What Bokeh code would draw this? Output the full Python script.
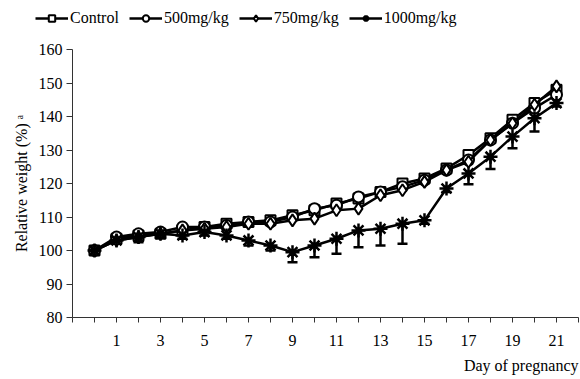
from bokeh.plotting import figure
from bokeh.layouts import column
from bokeh.models import (ColumnDataSource, FixedTicker, Legend, LegendItem, Title,
                          Whisker, TeeHead, Range1d)
from bokeh.embed import file_html
from bokeh.resources import INLINE

days = list(range(0, 22))
control = [100, 103.5, 104.5, 105, 106, 107, 108, 108.5, 109, 110.5, 112, 114,
           115.5, 117.5, 120, 121.5, 124.5, 128.5, 133.5, 139, 144, 148]
mg500 = [100, 104, 105, 105.5, 107, 107, 107.5, 108.5, 108.5, 110, 112.5, 113.5,
         116, 117.5, 119, 121, 124, 127, 133, 138, 142.5, 146.5]
mg750 = [100, 103, 104, 105, 106, 106.5, 107, 108, 108, 109, 109.5, 112,
         112.5, 116.5, 118, 120.5, 124, 126.5, 133, 138, 143.5, 149]
mg1000 = [100, 103, 104, 105, 104.5, 105.5, 104.5, 103, 101.5, 99.5, 101.5, 103.5,
          106, 106.5, 108, 109, 118.5, 123, 128, 134, 139.5, 144]
mg1000_err = [0, 1, 1.5, 1, 1, 1, 1, 1.5, 1.5, 3, 3.5, 4.5,
              5, 5, 6, 1, 1, 3.2, 3.7, 3.5, 4, 1]
series_names = ["Control", "500mg/kg", "750mg/kg", "1000mg/kg"]

tick_days = [1, 3, 5, 7, 9, 11, 13, 15, 17, 19, 21]
tick_labels = ["1", "3", "5", "7", "9", "11", "13", "15", "17", "19", "21"]
minor_days = [-1, 0, 2, 4, 6, 8, 10, 12, 14, 16, 18, 20, 22]
y_ticks = [80, 90, 100, 110, 120, 130, 140, 150, 160]

FONT = "Liberation Serif"
LW = 2.5
styles = [dict(marker="square", size=10, fill_color="white", line_width=2),
          dict(marker="circle", size=11, fill_color="white", line_width=2),
          dict(marker="diamond", size=12, fill_color="white", line_width=2),
          dict(marker="asterisk", size=14, line_width=2.5)]

# ---------- main chart ----------
p = figure(width=580, height=349, output_backend="svg", toolbar_location=None,
           x_range=Range1d(-1, 22), y_range=Range1d(80, 160),
           min_border_left=72, min_border_right=2, min_border_top=19, min_border_bottom=60)
p.frame_align = False
p.outline_line_color = None
p.xgrid.grid_line_color = None
p.ygrid.grid_line_color = None

p.xaxis.ticker = FixedTicker(ticks=tick_days, minor_ticks=minor_days)
p.xaxis.major_label_overrides = {d: l for d, l in zip(tick_days, tick_labels)}
p.yaxis.ticker = FixedTicker(ticks=y_ticks)
for ax in (p.xaxis[0], p.yaxis[0]):
    ax.axis_line_color = "#333333"
    ax.major_tick_line_color = "#333333"
    ax.minor_tick_line_color = "#333333"
    ax.major_tick_in = 0
    ax.minor_tick_in = 0
    ax.major_label_text_font = FONT
    ax.major_label_text_font_size = "16px"
    ax.major_label_text_color = "black"
    ax.axis_label_text_font = FONT
    ax.axis_label_text_font_size = "16px"
    ax.axis_label_text_font_style = "normal"
    ax.axis_label_text_color = "black"
p.xaxis.major_tick_out = 5
p.xaxis.minor_tick_out = 5
p.xaxis.major_label_standoff = 12
p.yaxis.major_tick_out = 6
p.yaxis.minor_tick_line_color = None
p.yaxis.major_label_standoff = 4
p.yaxis.axis_label = "Relative weight (%) \u1d43"
p.yaxis.axis_label_standoff = 6

src = ColumnDataSource(dict(x=days, c=control, a=mg500, b=mg750, d=mg1000,
                            lo=[v - e for v, e in zip(mg1000, mg1000_err)]))

cols = ["c", "a", "b", "d"]
for i, (col, st) in enumerate(zip(cols, styles)):
    if i == 3:
        w = Whisker(source=src, base="x", upper="d", lower="lo", line_color="black",
                    line_width=2.5, upper_head=None,
                    lower_head=TeeHead(size=10, line_width=2.5, line_color="black"))
        p.add_layout(w)
    p.line("x", col, source=src, line_color="black", line_width=LW)
    p.scatter("x", col, source=src, line_color="black", **st)

xt = Title(text="Day of pregnancy", align="right", text_font=FONT, text_font_size="16px",
           text_font_style="normal", text_color="black", standoff=12)
p.add_layout(xt, "below")

# ---------- legend strip (same styles, drawn only by the legend) ----------
lg = figure(width=580, height=30, output_backend="svg", toolbar_location=None,
            x_axis_location=None, y_axis_location=None,
            x_range=Range1d(0, 1), y_range=Range1d(0, 1),
            min_border_left=0, min_border_right=0, min_border_top=0, min_border_bottom=0)
lg.frame_align = False
lg.outline_line_color = None
lg.xgrid.grid_line_color = None
lg.ygrid.grid_line_color = None
nan = float("nan")
empty = ColumnDataSource(dict(x=[nan], y=[nan]))
items = []
for name, st in zip(series_names, styles):
    lr = lg.line("x", "y", source=empty, line_color="black", line_width=LW)
    sr = lg.scatter("x", "y", source=empty, line_color="black", **st)
    items.append(LegendItem(label=name, renderers=[lr, sr]))
legend = Legend(items=items, orientation="horizontal", location=(35, 3),
                label_text_font=FONT, label_text_font_size="16px", label_text_color="black",
                glyph_width=33, glyph_height=16, label_standoff=2, spacing=10,
                padding=0, margin=0, border_line_color=None, background_fill_alpha=0)
legend.label_height = 16
lg.add_layout(legend, "center")

open("out.html", "w").write(file_html(column(lg, p, spacing=0), INLINE))
